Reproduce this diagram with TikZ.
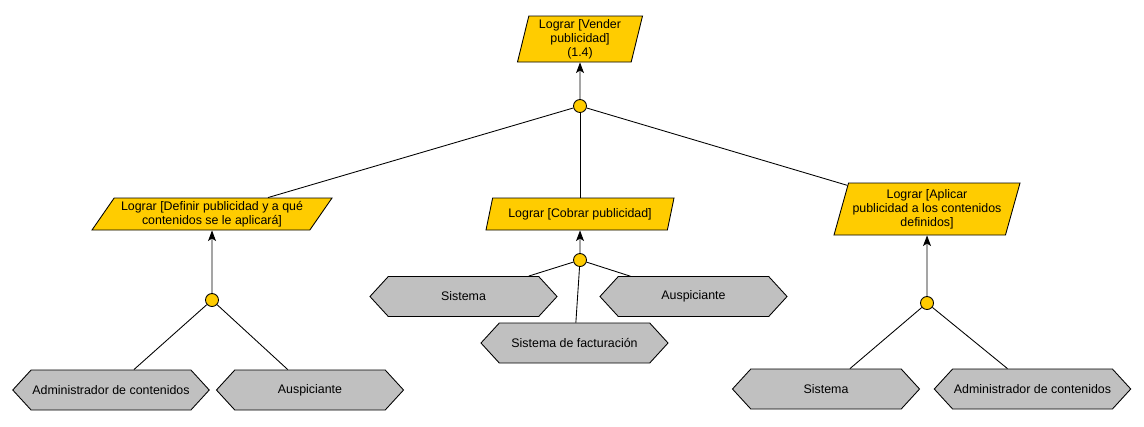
\documentclass[tikz,border=0pt]{standalone}
\usepackage{fontspec}
\setmainfont{Liberation Sans}
\usetikzlibrary{shapes.geometric,shapes.symbols,arrows.meta}
\definecolor{goalgold}{HTML}{FFCC00}
\definecolor{actorgray}{HTML}{C0C0C0}
\begin{document}
\begin{tikzpicture}[x=0.75pt,y=-0.75pt,
            line width=0.65pt,
            every node/.style={black,font=\fontsize{9.3}{10.5}\selectfont},
            goal/.style={trapezium,draw,fill=goalgold,align=center,
                trapezium stretches body,inner sep=1pt},
            actor/.style={signal,signal to=west and east,signal pointer angle=95,
                draw,fill=actorgray,minimum height=30pt,minimum width=140.3pt,inner sep=1pt},
            junc/.style={circle,draw,fill=goalgold,minimum size=9.75pt,inner sep=0pt},
            up/.style={-{Stealth[length=8pt,width=6pt,inset=2pt]}}
        ]
            \useasboundingbox (0,0) rectangle (1144,426);
            % goals
            \node [goal,trapezium left angle=75,trapezium right angle=105,
                minimum width=93.75pt,minimum height=34.5pt] (vender) at (580,39)
                {Lograr [Vender\\publicidad]\\(1.4)};
            \node [goal,trapezium left angle=52,trapezium right angle=128,
                minimum width=180pt,minimum height=24pt] (definir) at (212,214)
                {Lograr [Definir publicidad y a qué\\contenidos se le aplicará]};
            \node [goal,trapezium left angle=65,trapezium right angle=115,
                minimum width=141pt,minimum height=24pt] (cobrar) at (580,214)
                {Lograr [Cobrar publicidad]};
            \node [goal,trapezium left angle=71,trapezium right angle=109,
                minimum width=139.5pt,minimum height=39pt] (aplicar) at (927,209)
                {Lograr [Aplicar\\publicidad a los contenidos\\definidos]};

            % junctions
            \node [junc] (j0) at (580,106) {};
            \node [junc] (j1) at (212,300) {};
            \node [junc] (j2) at (580,260) {};
            \node [junc] (j3) at (927,303) {};

            % actors
            \node [actor,minimum width=144pt] (adm1) at (111,390) {Administrador de contenidos};
            \node [actor] (ausp1) at (310,390) {Auspiciante};
            \node [actor] (sis2) at (463.5,296.5) {Sistema};
            \node [actor] (ausp2) at (693.5,296.5) {Auspiciante};
            \node [actor] (fact) at (574.5,343) {Sistema de facturación};
            \node [actor] (sis3) at (826,389) {Sistema};
            \node [actor,minimum width=144pt] (adm3) at (1032.5,389) {Administrador de contenidos};

            \draw [up] (j0) -- (vender);
            \draw (j0) -- (definir);
            \draw (j0) -- (cobrar);
            \draw (j0) -- (aplicar);

            \draw [up] (j1) -- (definir);
            \draw (j1) -- (adm1);
            \draw (j1) -- (ausp1);

            \draw [up] (j2) -- (cobrar);
            \draw (j2) -- (sis2);
            \draw (j2) -- (ausp2);
            \draw (j2) -- (fact);

            \draw [up] (j3) -- (aplicar);
            \draw (j3) -- (sis3);
            \draw (j3) -- (adm3);
        \end{tikzpicture}
\end{document}
